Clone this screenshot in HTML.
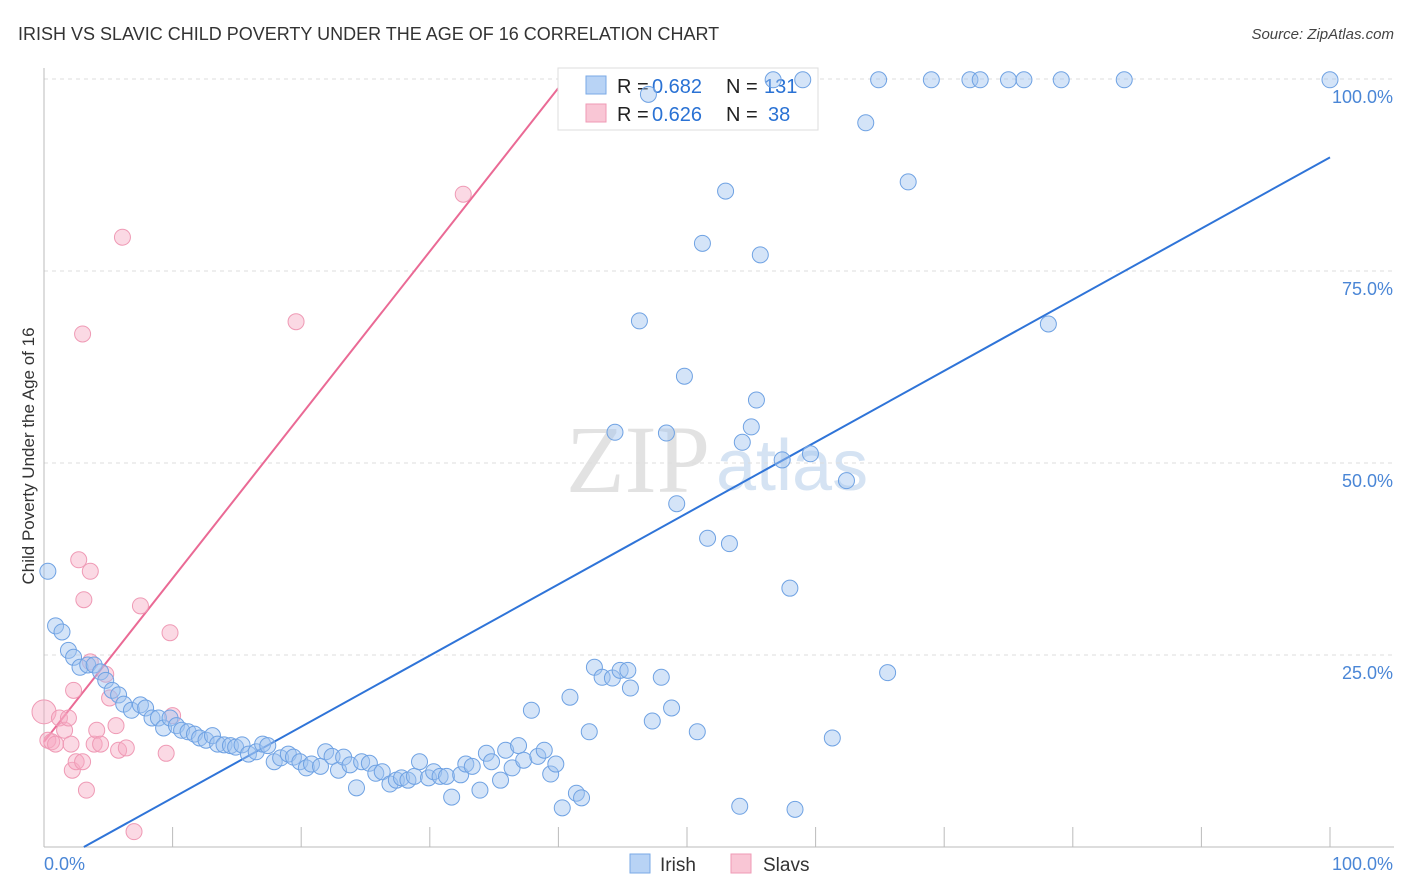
<!DOCTYPE html>
<html><head><meta charset="utf-8"><style>
body{margin:0;background:#fff;font-family:"Liberation Sans",sans-serif;}
svg{display:block}
</style></head><body>
<svg width="1406" height="892" xmlns="http://www.w3.org/2000/svg">
<text x="18" y="40" font-size="18" fill="#333">IRISH VS SLAVIC CHILD POVERTY UNDER THE AGE OF 16 CORRELATION CHART</text>
<text x="1394" y="39" font-size="15" fill="#444" font-style="italic" text-anchor="end">Source: ZipAtlas.com</text>
<text x="710" y="492" font-size="96" fill="#e2e2e2" font-family="Liberation Serif" text-anchor="end">ZIP</text>
<text x="716" y="490" font-size="72" fill="#d5e3f3">atlas</text>
<g id="grid"></g>
<g id="axes"></g>
<text transform="translate(34,456) rotate(-90)" font-size="17" fill="#333" text-anchor="middle">Child Poverty Under the Age of 16</text>
<g id="lines"></g>
<g>
<rect x="558" y="68" width="260" height="62" fill="#fff" stroke="#ddd"/>
<rect x="586" y="76" width="20" height="18" fill="#b8d3f5" stroke="#7aaae6"/>
<rect x="586" y="104" width="20" height="18" fill="#f9c6d5" stroke="#ef9ab5"/>
<text x="617" y="93" font-size="20" fill="#222">R =</text>
<text x="652" y="93" font-size="20" fill="#2a72d4">0.682</text>
<text x="726" y="93" font-size="20" fill="#222">N =</text>
<text x="764" y="93" font-size="20" fill="#2a72d4">131</text>
<text x="617" y="121" font-size="20" fill="#222">R =</text>
<text x="652" y="121" font-size="20" fill="#2a72d4">0.626</text>
<text x="726" y="121" font-size="20" fill="#222">N =</text>
<text x="768" y="121" font-size="20" fill="#2a72d4">38</text>
</g>
<g id="pts"></g>
<g>
<rect x="630" y="854" width="20" height="19" fill="#b8d3f5" stroke="#7aaae6"/>
<text x="660" y="871" font-size="19" fill="#333">Irish</text>
<rect x="731" y="854" width="20" height="19" fill="#f9c6d5" stroke="#ef9ab5"/>
<text x="763" y="871" font-size="19" fill="#333">Slavs</text>
</g>
</svg>
<script>
const irishX=[0.3,0.9,1.4,1.9,2.3,2.8,3.4,3.9,4.4,4.8,5.3,5.8,6.2,6.8,7.5,7.9,8.4,8.9,9.3,9.8,10.3,10.7,11.2,11.7,12.1,12.6,13.1,13.5,14,14.5,14.9,15.4,15.9,16.5,17,17.4,17.9,18.4,19,19.4,19.9,20.4,20.8,21.5,21.9,22.4,22.9,23.3,23.8,24.3,24.7,25.3,25.8,26.3,26.9,27.4,27.8,28.3,28.8,29.2,29.9,30.3,30.8,31.3,31.7,32.4,32.8,33.3,33.9,34.4,34.8,35.5,35.9,36.4,36.9,37.3,37.9,38.4,38.9,39.4,39.8,40.3,40.9,41.4,41.8,42.4,42.8,43.4,44.2,44.8,45.4,45.6,44.4,46.3,47.3,48,48.4,48.8,49.2,49.8,50.8,51.2,51.6,53,53.3,54.1,54.3,55,55.4,55.7,57.4,58,58.4,59.6,61.3,62.4,63.9,64.9,65.6,67.2,69,72,72.8,75,76.2,79.1,84,100,78.1,56.7,59,47];
const irishY=[35.9,28.8,28,25.6,24.7,23.4,23.7,23.7,22.8,21.7,20.4,19.8,18.6,17.8,18.5,18.1,16.8,16.8,15.5,16.8,15.8,15.2,15,14.7,14.2,13.9,14.5,13.4,13.3,13.2,13,13.3,12.1,12.4,13.4,13.2,11.1,11.6,12.1,11.7,11.1,10.3,10.8,10.5,12.4,11.8,10,11.7,10.7,7.7,11.1,10.9,9.6,9.8,8.2,8.7,9,8.7,9.2,11.1,9,9.8,9.2,9.2,6.5,9.4,10.8,10.5,7.4,12.2,11.1,8.7,12.6,10.3,13.2,11.3,17.8,11.8,12.6,9.5,10.8,5.1,19.5,7,6.4,15,23.4,22.1,22,23,23,20.7,54,68.5,16.4,22.1,53.9,18.1,44.7,61.3,15,78.6,40.2,85.4,39.5,5.3,52.7,54.7,58.2,77.1,50.4,33.7,4.9,51.2,14.2,47.7,94.3,99.9,22.7,86.6,99.9,99.9,99.9,99.9,99.9,99.9,99.9,99.9,68.1,99.9,99.9,98];
const slavX=[0,0.3,0.6,0.9,1.2,1.6,1.9,2.1,2.2,2.3,2.5,2.7,3,3,3.1,3.3,3.6,3.6,3.9,4.1,4.4,4.8,5.1,5.6,5.8,6.1,6.4,7,7.5,9.5,9.8,10,19.6,32.6];
const slavY=[17.6,13.9,13.7,13.4,16.8,15.2,16.8,13.4,10,20.4,11.1,37.4,66.8,11.1,32.2,7.4,35.9,24.1,13.4,15.2,13.4,22.5,19.4,15.8,12.6,79.4,12.9,2,31.4,12.2,27.9,17.1,68.4,85];
const blueLine=[[3.1,0],[100,89.8]];
const pinkLine=[[0,13.7],[40.5,99.9]];
const yTicks=[25,50,75,100];
const xTicks=[0,10,20,30,40,50,60,70,80,90,100];
const NS="http://www.w3.org/2000/svg";
const sx=v=>44+v*12.86, sy=v=>847-v*7.68;
function mk(t,a,p){const e=document.createElementNS(NS,t);for(const k in a)e.setAttribute(k,a[k]);p.appendChild(e);return e;}
const grid=document.getElementById('grid'),axes=document.getElementById('axes'),pts=document.getElementById('pts'),lines=document.getElementById('lines');
yTicks.forEach(t=>{
 const l=mk('line',{x1:44,x2:1394,y1:sy(t),y2:sy(t),stroke:'#ddd','stroke-dasharray':'4,4'},grid);
 
 
 const tx=mk('text',{x:1393,y:sy(t)+24,'font-size':18,fill:'#4a86d6','text-anchor':'end'},grid);
 tx.textContent=t.toFixed(1)+'%';
 
 
});
const ya=mk('line',{x1:44,x2:44,y1:68,y2:847,stroke:'#bbb'},axes);


const xa=mk('line',{x1:44,x2:1394,y1:847,y2:847,stroke:'#bbb'},axes);


xTicks.forEach(t=>{
 const l=mk('line',{x1:sx(t),x2:sx(t),y1:827,y2:847,stroke:'#bbb'},axes);
 
 
});
[[0,'start'],[100,'end']].forEach(([t,a])=>{
 const tx=mk('text',{x:t===0?44:1393,y:870,'font-size':18,fill:'#4a86d6','text-anchor':a},axes);
 tx.textContent=t.toFixed(1)+'%';
 
 
});
slavX.forEach((x,i)=>{
 const c=mk('circle',{cx:sx(x),cy:sy(slavY[i]),r:i===0?12:8,fill:'rgba(246,170,195,0.45)',stroke:'#ef9ab5','stroke-width':1},pts);
 
 
});
irishX.forEach((x,i)=>{
 const c=mk('circle',{cx:sx(x),cy:sy(irishY[i]),r:8,fill:'rgba(160,196,240,0.45)',stroke:'#6fa2e3','stroke-width':1},pts);
 
 
});
const bl=mk('line',{x1:sx(blueLine[0][0]),y1:sy(blueLine[0][1]),x2:sx(blueLine[1][0]),y2:sy(blueLine[1][1]),stroke:'#2f74d8','stroke-width':2},lines);


const pl=mk('line',{x1:sx(pinkLine[0][0]),y1:sy(pinkLine[0][1]),x2:sx(pinkLine[1][0]),y2:sy(pinkLine[1][1]),stroke:'#ea6a95','stroke-width':2},lines);


</script>
</body></html>
